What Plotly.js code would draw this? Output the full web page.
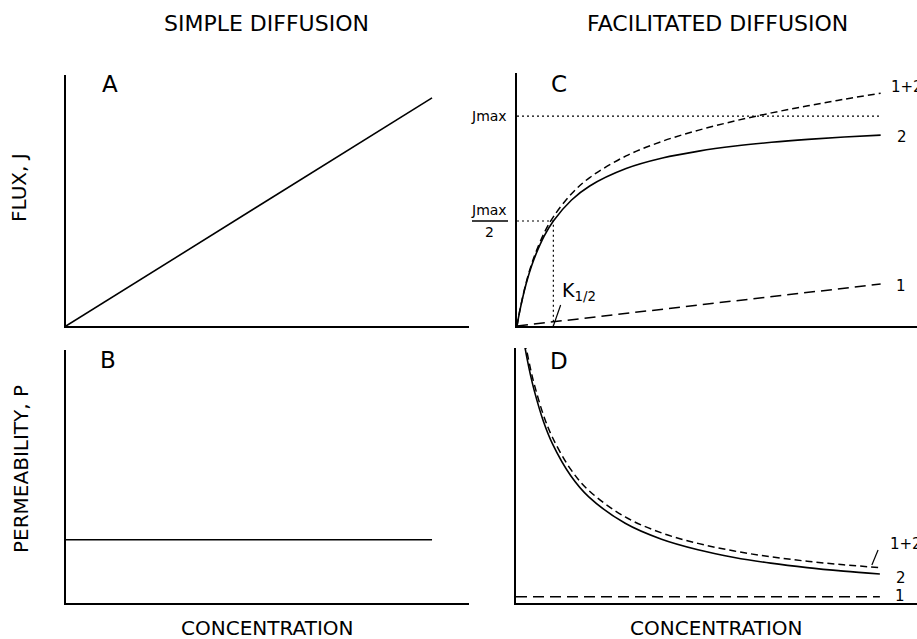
<!DOCTYPE html>
<html>
<head>
<meta charset="utf-8">
<script src="https://cdn.plot.ly/plotly-3.0.1.min.js"></script>
<style>html,body{margin:0;padding:0;background:#fff;}#chart{width:917px;height:639px;}</style>
</head>
<body>
<div id="chart"></div>
<script>
// ---- Data ----
// Panel A: simple diffusion flux, linear in concentration
const concA = [0, 10];
const fluxA = [0, 1.0];
// Panel B: simple diffusion permeability, constant
const concB = [0, 10];
const permB = [0.25, 0.25];
// Panel C: facilitated diffusion flux
const concC = [0, 0.05, 0.1, 0.2, 0.3, 0.4, 0.5, 0.75, 1, 1.5, 2, 3, 4, 5, 6, 7, 8, 9, 10];
const fluxC2 = [0, 0.048, 0.091, 0.167, 0.231, 0.286, 0.333, 0.429, 0.5, 0.6, 0.667, 0.75, 0.8, 0.833, 0.857, 0.875, 0.889, 0.9, 0.909];
const fluxC12 = [0, 0.049, 0.093, 0.171, 0.237, 0.294, 0.343, 0.444, 0.52, 0.63, 0.707, 0.81, 0.88, 0.933, 0.977, 1.015, 1.049, 1.08, 1.109];
const concC1 = [0, 10];
const fluxC1 = [0, 0.2];
const jmax = 1.0;
const kHalf = 1.0;
const jmaxLineEnd = 10;
// Panel D: facilitated diffusion permeability
const concD = [0.2, 0.25, 0.3, 0.4, 0.5, 0.75, 1, 1.5, 2, 3, 4, 5, 6, 7, 8, 9, 10];
const permD2 = [0.833, 0.8, 0.769, 0.714, 0.667, 0.571, 0.5, 0.4, 0.333, 0.25, 0.2, 0.167, 0.143, 0.125, 0.111, 0.1, 0.0909];
const permD12 = [0.853, 0.82, 0.789, 0.734, 0.687, 0.591, 0.52, 0.42, 0.353, 0.27, 0.22, 0.187, 0.163, 0.145, 0.131, 0.12, 0.111];
const concD1 = [0, 10];
const permD1 = [0.02, 0.02];
// Text labels
const titleLeft = "SIMPLE DIFFUSION";
const titleRight = "FACILITATED DIFFUSION";
const xLabel = "CONCENTRATION";
const yLabelTop = "FLUX, J";
const yLabelBottom = "PERMEABILITY, P";
const panelLetters = ["A", "B", "C", "D"];

// ---- Layout helpers ----
const W = 917, H = 639;
const px = p => p / W;
const py = p => 1 - p / H;
const FONT = "DejaVu Sans, Liberation Sans, sans-serif";
const black = "#000";

const solid = {color: black, width: 1.6};
const shortDash = {color: black, width: 1.5, dash: "7px,4px"};
const longDash = {color: black, width: 1.5, dash: "11px,6px"};
const dotted = {color: black, width: 1.2, dash: "2px,3px"};

const traces = [
  {x: concA, y: fluxA, xaxis: "x", yaxis: "y", mode: "lines", line: solid},
  {x: concB, y: permB, xaxis: "x2", yaxis: "y2", mode: "lines", line: solid},
  // C
  {x: [0, jmaxLineEnd], y: [jmax, jmax], xaxis: "x3", yaxis: "y3", mode: "lines", line: dotted},
  {x: [0, kHalf, kHalf], y: [jmax / 2, jmax / 2, 0], xaxis: "x3", yaxis: "y3", mode: "lines", line: dotted},
  {x: concC1, y: fluxC1, xaxis: "x3", yaxis: "y3", mode: "lines", line: longDash},
  {x: concC, y: fluxC12, xaxis: "x3", yaxis: "y3", mode: "lines", line: Object.assign({shape: "spline"}, shortDash)},
  {x: concC, y: fluxC2, xaxis: "x3", yaxis: "y3", mode: "lines", line: Object.assign({shape: "spline"}, solid)},
  // D
  {x: concD1, y: permD1, xaxis: "x4", yaxis: "y4", mode: "lines", line: longDash},
  {x: concD, y: permD12, xaxis: "x4", yaxis: "y4", mode: "lines", line: Object.assign({shape: "spline"}, shortDash)},
  {x: concD, y: permD2, xaxis: "x4", yaxis: "y4", mode: "lines", line: Object.assign({shape: "spline"}, solid)}
];

function ax(domain, range, anchor) {
  return {
    domain: domain, range: range, anchor: anchor, fixedrange: true,
    showline: true, linecolor: black, linewidth: 2, mirror: false,
    showgrid: false, zeroline: false, showticklabels: false, ticks: ""
  };
}

function ann(text, x, y, size, extra) {
  return Object.assign({
    text: text, x: px(x), y: py(y), xref: "paper", yref: "paper",
    showarrow: false, xanchor: "center", yanchor: "middle",
    font: {family: FONT, size: size, color: black}
  }, extra || {});
}

const annotations = [
  ann(titleLeft, 266, 24, 22),
  ann(titleRight, 717, 24, 22),
  ann(xLabel, 267, 628, 20),
  ann(xLabel, 716, 628, 20),
  ann(yLabelTop, 19, 188, 20, {textangle: -90}),
  ann(yLabelBottom, 21, 469, 20, {textangle: -90}),
  ann(panelLetters[0], 110, 84, 23),
  ann(panelLetters[1], 108, 360, 23),
  ann(panelLetters[2], 559, 84, 23),
  ann(panelLetters[3], 559, 361, 23),
  // C labels
  ann("1+2", 889, 87, 15, {xanchor: "left"}),
  ann("2", 902, 137, 15),
  ann("1", 901, 286, 15),
  ann("Jmax", 489, 116, 14),
  ann("Jmax", 489, 220, 14, {yanchor: "bottom"}),
  ann("2", 489, 222, 14, {yanchor: "top"}),
  ann("K<sub>1/2</sub>", 560, 291, 19, {xanchor: "left"}),
  // D labels
  ann("1+2", 888, 544, 15, {xanchor: "left"}),
  ann("2", 901, 578, 15),
  ann("1", 900, 596, 15)
];

const shapes = [
  {type: "line", xref: "paper", yref: "paper", x0: px(472), x1: px(508), y0: py(221), y1: py(221),
   line: {color: black, width: 1.3}},
  {type: "line", xref: "x3", yref: "y3", x0: kHalf, y0: 0, x1: kHalf + 0.2, y1: 0.1,
   line: {color: black, width: 1.2}},
  {type: "line", xref: "x4", yref: "y4", x0: 9.78, y0: 0.119, x1: 9.95, y1: 0.166,
   line: {color: black, width: 1.2}}
];

const layout = {
  width: W, height: H,
  margin: {l: 0, r: 0, t: 0, b: 0, pad: 0},
  paper_bgcolor: "#fff", plot_bgcolor: "#fff",
  showlegend: false,
  font: {family: FONT, color: black},
  xaxis: ax([px(66), px(469)], [0, 11.01], "y"),
  yaxis: ax([py(326), py(75)], [0, 1.1], "x"),
  xaxis2: ax([px(66), px(469)], [0, 11.01], "y2"),
  yaxis2: ax([py(603), py(350)], [0, 1], "x2"),
  xaxis3: ax([px(517), 1], [0, 11.0], "y3"),
  yaxis3: ax([py(326), py(73)], [0, 1.205], "x3"),
  xaxis4: ax([px(516), 1], [0, 11.02], "y4"),
  yaxis4: ax([py(603), py(348)], [0, 0.8], "x4"),
  annotations: annotations,
  shapes: shapes
};

Plotly.newPlot("chart", traces, layout, {staticPlot: true, displayModeBar: false});
</script>
</body>
</html>
